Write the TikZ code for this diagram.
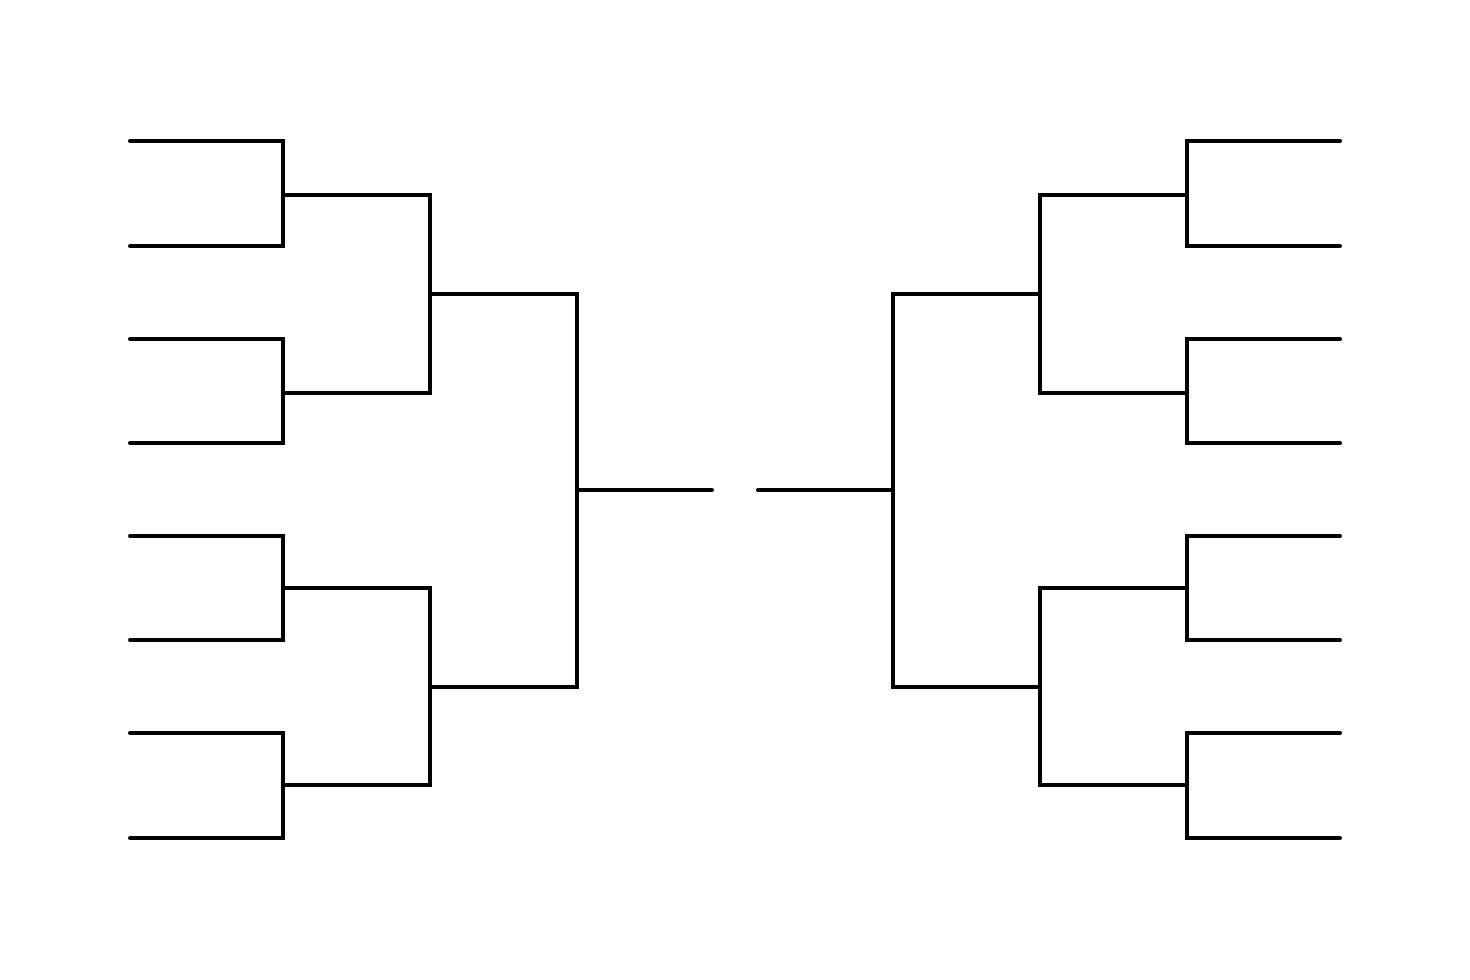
\documentclass[tikz,border=0pt]{standalone}
\begin{document}
\begin{tikzpicture}[x=1pt,y=-1pt,br/.style={line width=4pt,line cap=round,line join=miter,black}]
\useasboundingbox[fill=white] (0,0) rectangle (1470,980);
\foreach \s/\o in {1/0,-1/1470}{
\begin{scope}[xshift=\o pt,xscale=\s]
\foreach \a/\b in {141/246,339/443,536/640,733/838}{
  \draw[br] (130,\a) -- (283,\a) -- (283,\b) -- (130,\b);
}
\foreach \a/\b in {195/393,588/785}{
  \draw[br] (283,\a) -- (430,\a) -- (430,\b) -- (283,\b);
}
\draw[br] (430,294) -- (577,294) -- (577,687) -- (430,687);
\draw[br] (577,490) -- (712,490);
\end{scope}}
\end{tikzpicture}
\end{document}
